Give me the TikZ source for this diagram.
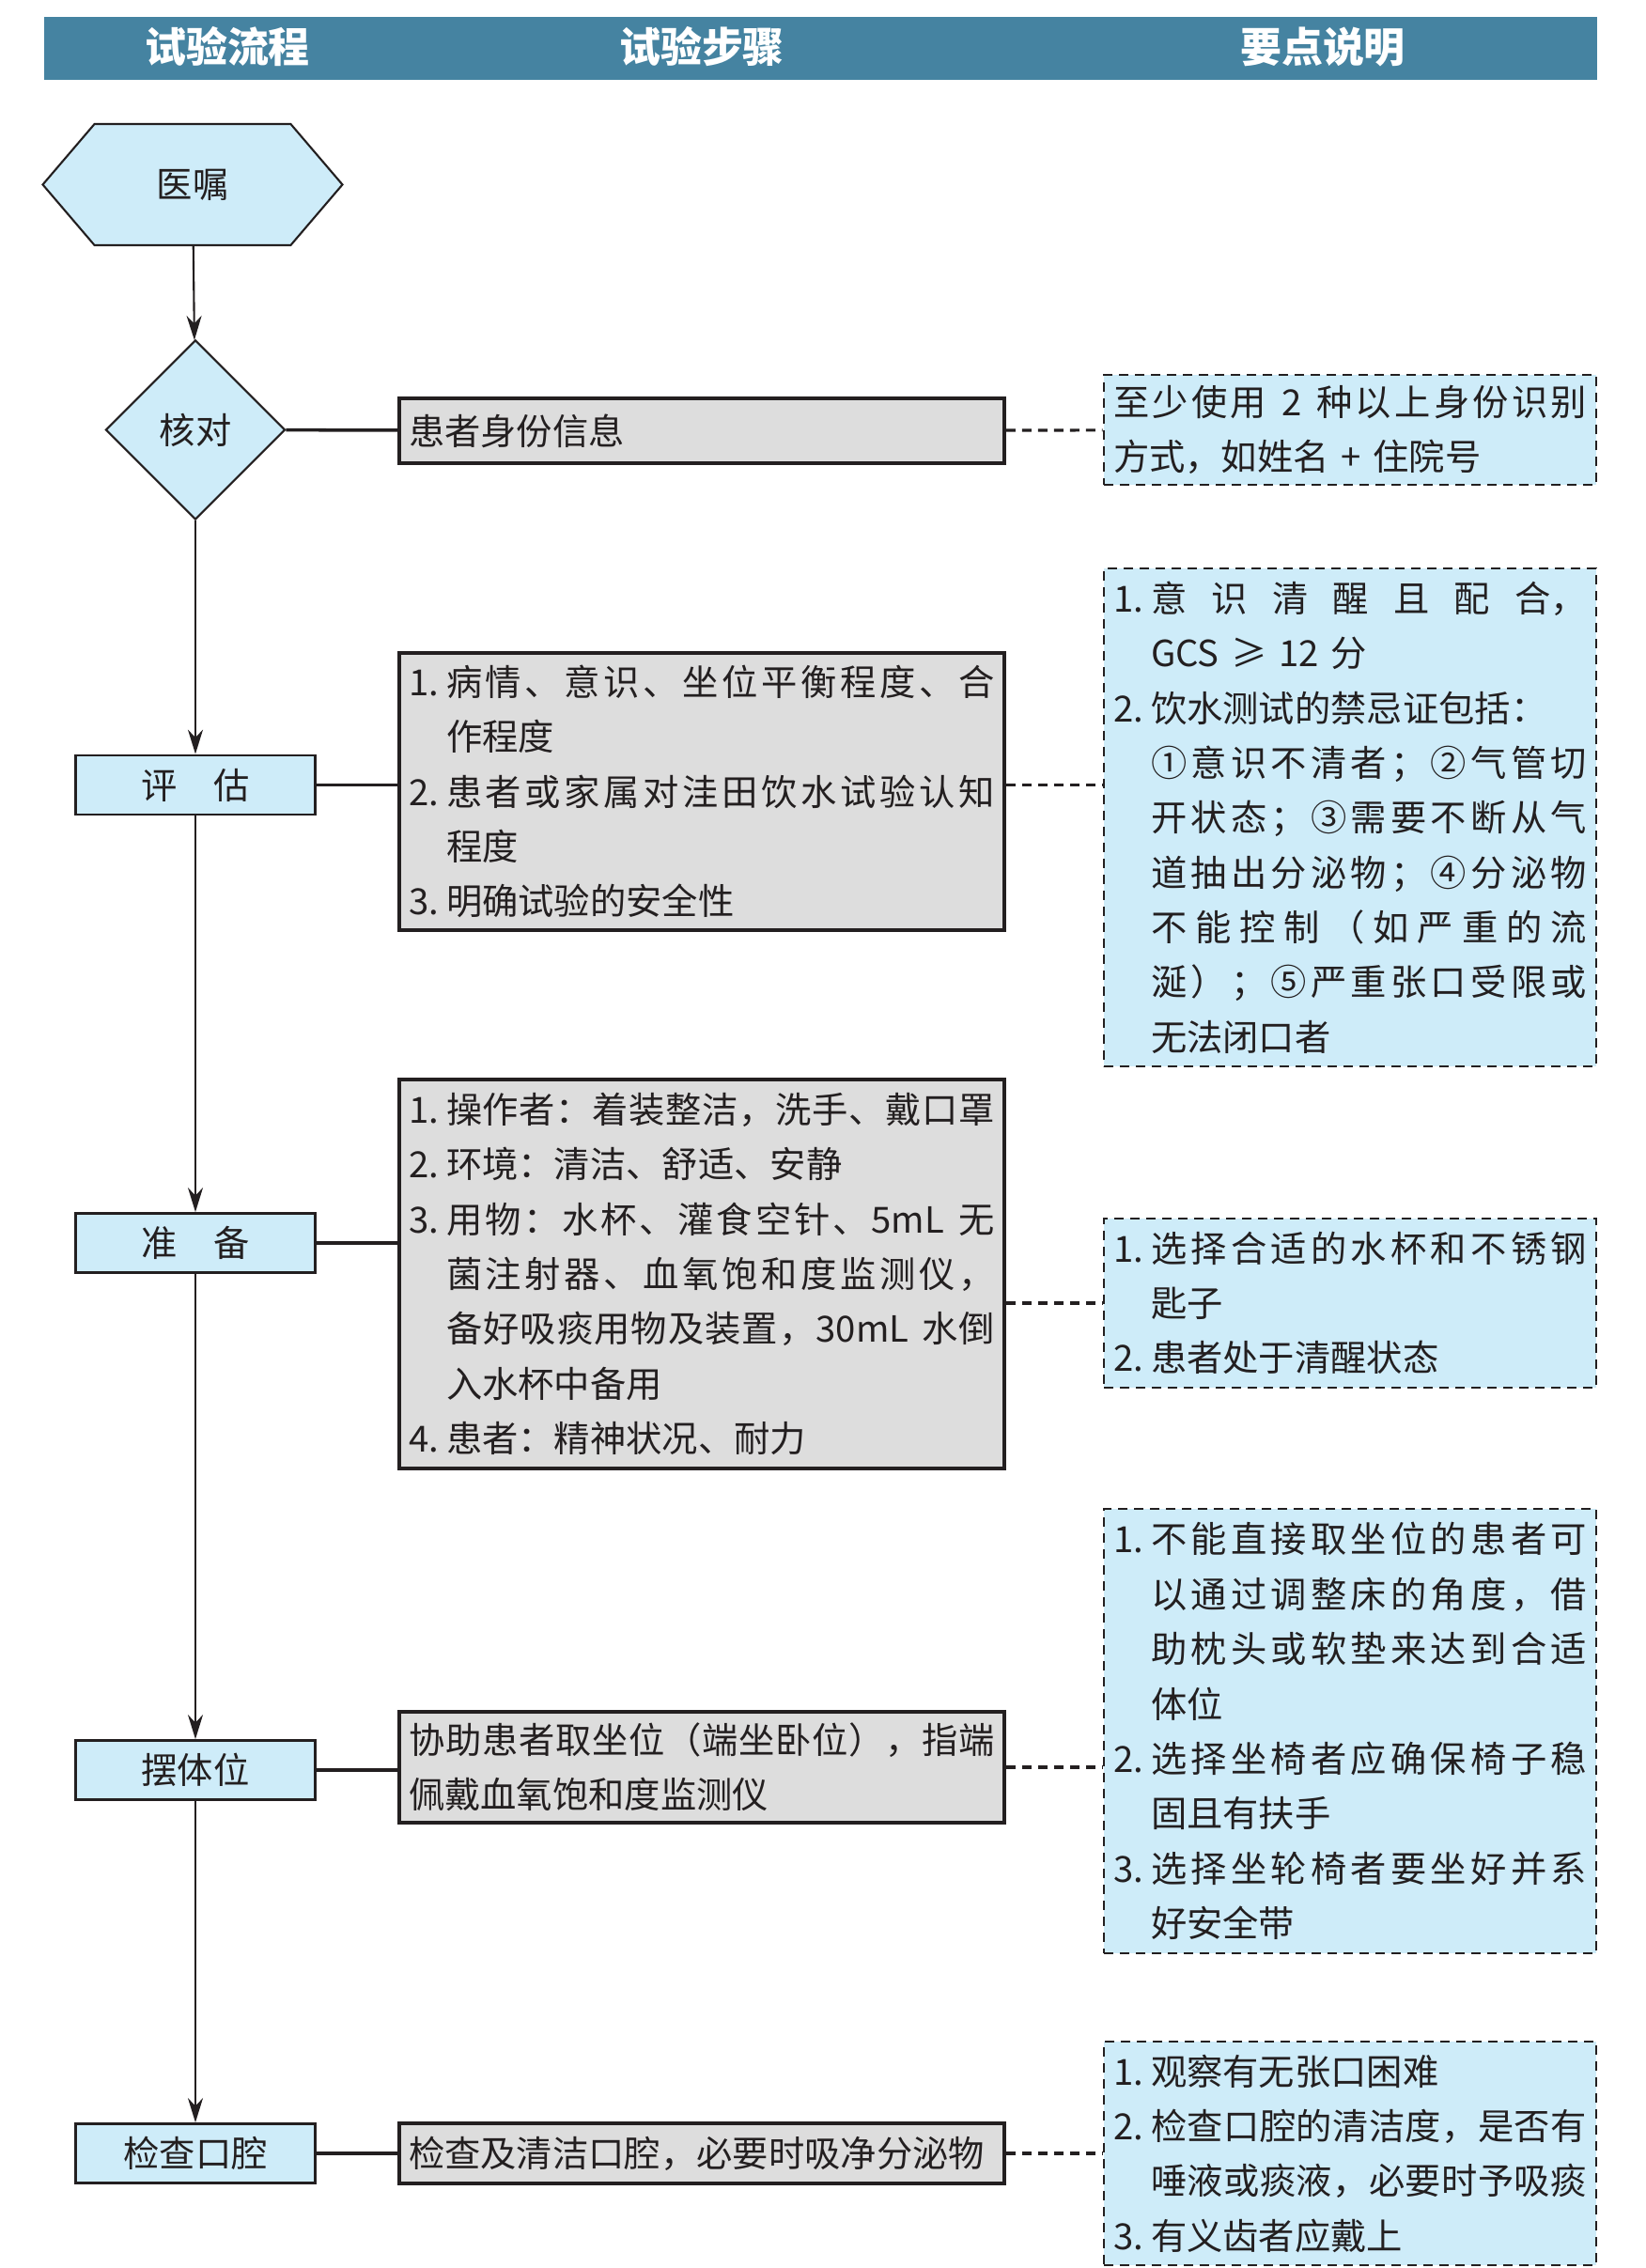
\documentclass[tikz,border=0pt]{standalone}
\usepackage{fontspec}
\setmainfont{Noto Sans CJK SC}
\usetikzlibrary{arrows.meta,shapes.geometric,shapes.symbols}
\definecolor{azulcab}{RGB}{69,131,161}
\definecolor{celeste}{RGB}{206,236,249}
\definecolor{gris}{RGB}{221,221,221}
\definecolor{tinta}{RGB}{35,31,32}

\newcommand{\texto}{\fontsize{10.9pt}{16.6pt}\selectfont}
% reparto uniforme de los caracteres en una linea
\def\jzfirst#1{#1\jzrest}
\def\jzrest#1{\ifx\relax#1\else\hfil#1\expandafter\jzrest\fi}
\newcommand{\jz}[2]{\makebox[#1][s]{\jzfirst#2\relax}}
\newcommand{\jg}[1]{\jz{5.84cm}{#1}}
\newcommand{\jd}[1]{\jz{4.64cm}{#1}}
\newcommand{\nro}[1]{\makebox[0.40cm][l]{#1}}
\newcommand{\sangria}{\hspace*{0.40cm}}

\begin{document}
\begin{tikzpicture}[
color=tinta,
cab/.style={text=white,font=\fontsize{12.5pt}{14pt}\selectfont\bfseries},
inicio/.style={shape=signal,signal to=east and west,signal pointer angle=99,draw,line width=0.6pt,fill=celeste,minimum width=3.19cm,minimum height=1.29cm,inner sep=0pt,font=\texto},
decision/.style={shape=diamond,aspect=1,draw,line width=0.6pt,fill=celeste,minimum width=1.91cm,minimum height=1.91cm,inner sep=0pt,font=\texto},
etapa/.style={draw,line width=0.8pt,fill=celeste,minimum width=2.55cm,minimum height=0.63cm,inner sep=0pt,font=\texto},
paso/.style={draw,line width=1pt,fill=gris,text width=6.24cm,inner xsep=0.10cm,inner ysep=0pt,align=left,font=\texto},
nota/.style={draw,line width=0.8pt,dash pattern=on 1mm off 0.7mm,fill=celeste,text width=5.04cm,inner xsep=0.10cm,inner ysep=0pt,align=left,font=\texto},
arr/.style={-{Stealth[length=2.6mm,width=1.6mm]},line width=0.6pt},
conn/.style={line width=1pt},
punt/.style={line width=0.9pt,dash pattern=on 1mm off 0.7mm}
]
\useasboundingbox (0,0) rectangle (17.51,-24.14);

\node[fill=azulcab,minimum width=16.53cm,minimum height=0.67cm,inner sep=0pt,anchor=north west] (barra) at (0.46,-0.17) {};
\node[cab] (cab1) at (2.42,-0.50) {试验流程};
\node[cab] (cab2) at (7.47,-0.50) {试验步骤};
\node[cab] (cab3) at (14.08,-0.50) {要点说明};

\node[inicio] (yizhu) at (2.05,-1.965) {医嘱};
\node[decision] (hedui) at (2.08,-4.575) {核对};
\node[etapa] (pinggu) at (2.08,-8.355) {评\hspace{1em}估};
\node[etapa] (zhunbei) at (2.08,-13.23) {准\hspace{1em}备};
\node[etapa] (baiti) at (2.08,-18.84) {摆体位};
\node[etapa] (jiancha) at (2.08,-22.92) {检查口腔};

\node[paso,minimum height=0.69cm] (paso1) at (7.47,-4.585) {患者身份信息};
\node[paso,minimum height=2.95cm] (paso2) at (7.47,-8.425) {\nro{1.}\jg{病情、意识、坐位平衡程度、合}\\
\sangria 作程度\\
\nro{2.}\jg{患者或家属对洼田饮水试验认知}\\
\sangria 程度\\
\nro{3.}明确试验的安全性};
\node[paso,minimum height=4.14cm] (paso3) at (7.47,-13.56) {\nro{1.}\jg{操作者：着装整洁，洗手、戴口罩}\\
\nro{2.}环境：清洁、舒适、安静\\
\nro{3.}\jg{用物：水杯、灌食空针、{5mL~}无}\\
\sangria\jg{菌注射器、血氧饱和度监测仪，}\\
\sangria\jg{备好吸痰用物及装置，{30mL~}水倒}\\
\sangria 入水杯中备用\\
\nro{4.}患者：精神状况、耐力};
\node[paso,minimum height=1.18cm] (paso4) at (7.47,-18.81) {\jz{6.24cm}{协助患者取坐位（端坐卧位），指端}\\
佩戴血氧饱和度监测仪};
\node[paso,minimum height=0.64cm] (paso5) at (7.47,-22.92) {检查及清洁口腔，必要时吸净分泌物};

\node[nota,minimum height=1.17cm] (nota1) at (14.37,-4.575) {\jz{5.04cm}{至少使用{~2~}种以上身份识别}\\
方式，如姓名 + 住院号};
\node[nota,minimum height=5.30cm] (nota2) at (14.37,-8.70) {\nro{1.}\jd{意识清醒且配{合，}}\\
\sangria GCS ≥ 12 分\\
\nro{2.}饮水测试的禁忌证包括：\\
\sangria\jd{①意识不清者；②气管切}\\
\sangria\jd{开状态；③需要不断从气}\\
\sangria\jd{道抽出分泌物；④分泌物}\\
\sangria\jd{不能控制（如严重的流}\\
\sangria\jd{涎）；⑤严重张口受限或}\\
\sangria 无法闭口者};
\node[nota,minimum height=1.80cm] (nota3) at (14.37,-13.87) {\nro{1.}\jd{选择合适的水杯和不锈钢}\\
\sangria 匙子\\
\nro{2.}患者处于清醒状态};
\node[nota,minimum height=4.73cm] (nota4) at (14.37,-18.425) {\nro{1.}\jd{不能直接取坐位的患者可}\\
\sangria\jd{以通过调整床的角度，借}\\
\sangria\jd{助枕头或软垫来达到合适}\\
\sangria 体位\\
\nro{2.}\jd{选择坐椅者应确保椅子稳}\\
\sangria 固且有扶手\\
\nro{3.}\jd{选择坐轮椅者要坐好并系}\\
\sangria 好安全带};
\node[nota,minimum height=2.38cm] (nota5) at (14.37,-22.92) {\nro{1.}观察有无张口困难\\
\nro{2.}\jd{检查口腔的清洁度，是否有}\\
\sangria\jd{唾液或痰液，必要时予吸痰}\\
\nro{3.}有义齿者应戴上};

\foreach \a/\b in {yizhu/hedui,hedui/pinggu,pinggu/zhunbei,zhunbei/baiti,baiti/jiancha} \draw[arr] (\a) -- (\b);

\draw[conn] (hedui) -- (paso1);
\draw[conn] (pinggu) -- (pinggu -| paso2.west);
\draw[conn] (zhunbei) -- (zhunbei -| paso3.west);
\draw[conn] (baiti) -- (baiti -| paso4.west);
\draw[conn] (jiancha) -- (paso5);

\draw[punt] (paso1) -- (nota1);
\draw[punt] (paso2.east |- pinggu) -- (nota2.west |- pinggu);
\draw[punt] (paso3.east |- nota3) -- (nota3);
\draw[punt] (paso4) -- (paso4 -| nota4.west);
\draw[punt] (paso5) -- (nota5);
\end{tikzpicture}
\end{document}
